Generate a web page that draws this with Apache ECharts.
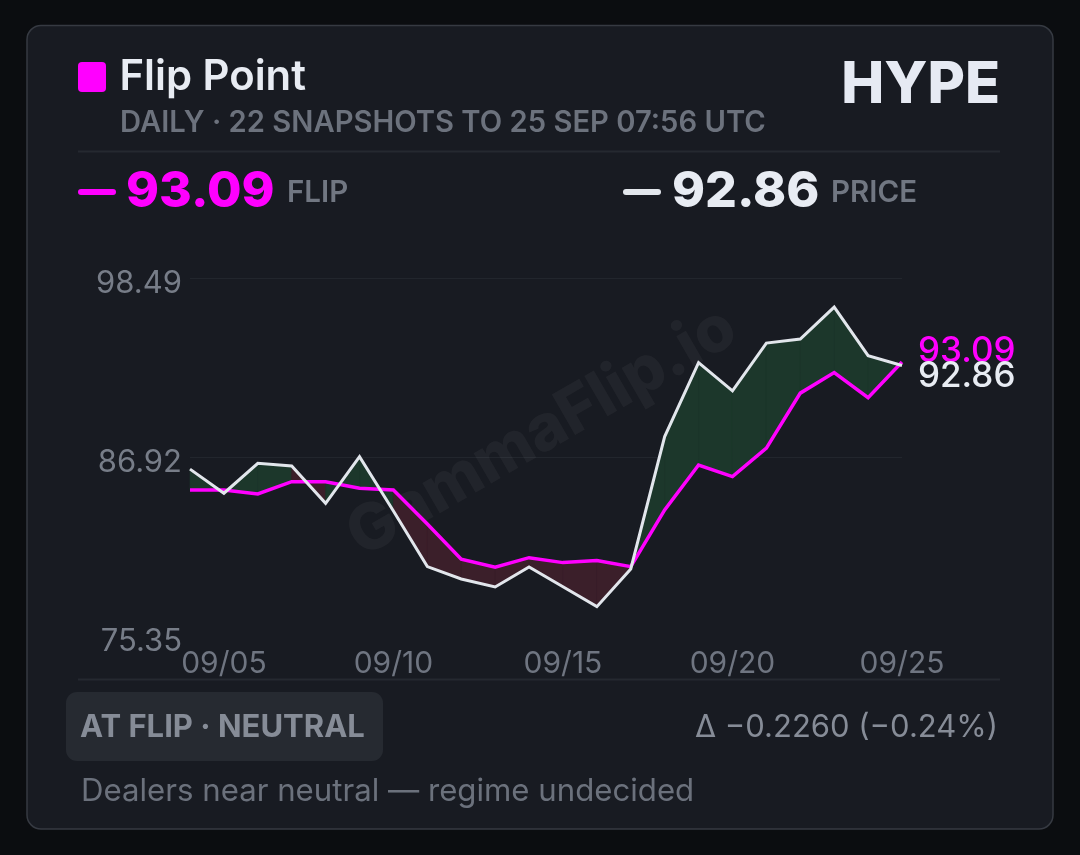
<!DOCTYPE html>
<html>
<head>
<meta charset="utf-8">
<script src="https://cdn.jsdelivr.net/npm/echarts@6/dist/echarts.min.js"></script>
<style>
html,body{margin:0;padding:0;background:#0b0d10;}
#chart{width:1080px;height:855px;}
</style>
</head>
<body>
<div id="chart"></div>
<script>
// ---- data ----
const dates = ['09/04','09/05','09/06','09/07','09/08','09/09','09/10','09/11','09/12','09/13','09/14','09/15','09/16','09/17','09/18','09/19','09/20','09/21','09/22','09/23','09/24','09/25'];
const price = [86.15, 84.59, 86.53, 86.36, 83.94, 86.96, 83.44, 79.84, 79.04, 78.52, 79.82, 78.54, 77.25, 79.69, 88.26, 93.05, 91.22, 94.31, 94.57, 96.64, 93.50, 92.86];
const flip  = [84.80, 84.80, 84.55, 85.34, 85.34, 84.91, 84.80, 82.60, 80.32, 79.80, 80.42, 80.10, 80.23, 79.84, 83.51, 86.42, 85.67, 87.51, 91.07, 92.40, 90.78, 93.09];
const yTicks = [75.35, 86.92, 98.49];
const titleText = 'Flip Point';
const subtitleText = 'DAILY · 22 SNAPSHOTS TO 25 SEP 07:56 UTC';
const symbolText = 'HYPE';
const badgeText = 'AT FLIP · NEUTRAL';
const deltaText = 'Δ −0.2260 (−0.24%)';
const noteText = 'Dealers near neutral — regime undecided';
const watermark = 'GammaFlip.io';

const FONT = "Inter, 'Noto Sans', sans-serif";
const MAGENTA = '#ff00ff';
const WHITE = '#e2e6ec';

// band segments between the two lines
const bands = [];
for (let i = 0; i < dates.length - 1; i++) {
  bands.push([i, price[i], price[i + 1], flip[i], flip[i + 1]]);
}

const chart = echarts.init(document.getElementById('chart'), null, {renderer: 'canvas'});

const txt = (x, y, text, size, weight, color, align) => ({
  type: 'text', x: x, y: y, z: 5,
  style: {text: text, fill: color, font: weight + ' ' + size + 'px ' + FONT, align: align || 'left', verticalAlign: 'middle'}
});

chart.setOption({
  backgroundColor: '#0b0d10',
  animation: false,
  grid: {left: 190, right: 178, top: 278.5, bottom: 219},
  xAxis: {
    type: 'category', data: dates, boundaryGap: false,
    axisLine: {show: false}, axisTick: {show: false},
    axisLabel: {
      color: '#6f7581', fontFamily: FONT, fontSize: 30, margin: 13,
      interval: (idx) => (idx - 1) % 5 === 0
    },
    splitLine: {show: false}
  },
  yAxis: {
    type: 'value', min: yTicks[0], max: yTicks[2], interval: yTicks[1] - yTicks[0],
    axisLine: {show: false}, axisTick: {show: false},
    axisLabel: {
      color: '#777d88', fontFamily: FONT, fontSize: 31, margin: 8,
      verticalAlign: 'top', lineHeight: 11,
      formatter: (v) => v.toFixed(2)
    },
    splitLine: {show: true, lineStyle: {color: ['rgba(0,0,0,0)', '#22262d', '#22262d'], width: 1}}
  },
  graphic: [
    {type: 'rect', z: -10, shape: {x: 27, y: 25.5, width: 1026, height: 803.5, r: 14},
     style: {fill: '#181b22', stroke: '#363a42', lineWidth: 1.5}},
    {type: 'rect', z: 5, shape: {x: 78, y: 62, width: 28, height: 30, r: 4}, style: {fill: MAGENTA}},
    txt(119.5, 77.5, titleText, 41.8, 600, '#e8ecf3'),
    txt(120, 123.5, subtitleText, 29.2, 600, '#6c727d'),
    txt(1000, 85.5, symbolText, 57.5, 800, '#e6eaf3', 'right'),
    {type: 'rect', z: 5, shape: {x: 78, y: 150.5, width: 922, height: 2}, style: {fill: '#252930'}},
    {type: 'rect', z: 5, shape: {x: 78, y: 189, width: 38, height: 6, r: 3}, style: {fill: MAGENTA}},
    txt(126, 191.5, flip[flip.length - 1].toFixed(2), 50, 800, MAGENTA),
    txt(287, 193.5, 'FLIP', 29.5, 600, '#717782'),
    {type: 'rect', z: 5, shape: {x: 623, y: 189, width: 38, height: 6, r: 3}, style: {fill: WHITE}},
    txt(672, 191.5, price[price.length - 1].toFixed(2), 50, 800, '#e8ecf3'),
    txt(831, 193.5, 'PRICE', 29.5, 600, '#717782'),
    {type: 'text', z: 1, x: 542, y: 432, rotation: 30 * Math.PI / 180,
     style: {text: watermark, fill: 'rgba(255,255,255,0.045)', font: '800 64px ' + FONT, align: 'center', verticalAlign: 'middle'}},
    {type: 'rect', z: 5, shape: {x: 78, y: 678.5, width: 922, height: 2}, style: {fill: '#252930'}},
    {type: 'rect', z: 5, shape: {x: 66, y: 692, width: 317, height: 69, r: 11}, style: {fill: '#262a31'}},
    txt(80, 727.5, badgeText, 31, 700, '#868c97'),
    txt(998, 727.5, deltaText, 31, 400, '#868c97', 'right'),
    txt(81, 791.5, noteText, 31.2, 400, '#6b717c')
  ],
  series: [
    {
      type: 'custom', z: 2, silent: true,
      data: bands,
      encode: {x: 0, y: [1, 2, 3, 4]},
      renderItem: (params, api) => {
        const i = api.value(0);
        const p0 = api.value(1), p1 = api.value(2), f0 = api.value(3), f1 = api.value(4);
        const pts = [api.coord([i, p0]), api.coord([i + 1, p1]), api.coord([i + 1, f1]), api.coord([i, f0])];
        const up = (p0 + p1) - (f0 + f1) >= 0;
        const c = up ? '#1c372b' : '#3b1f2a';
        return {type: 'polygon', shape: {points: pts}, style: {fill: c, stroke: c, lineWidth: 0.6}};
      }
    },
    {
      type: 'line', name: 'Flip', data: flip, z: 3, symbol: 'none', silent: true,
      lineStyle: {color: MAGENTA, width: 3.5, join: 'miter'},
      endLabel: {show: true, formatter: (p) => p.value.toFixed(2), color: MAGENTA, fontFamily: FONT, fontSize: 35, fontWeight: 500, distance: 16, offset: [0, -10]}
    },
    {
      type: 'line', name: 'Price', data: price, z: 4, symbol: 'none', silent: true,
      lineStyle: {color: WHITE, width: 3, join: 'miter'},
      endLabel: {show: true, formatter: (p) => p.value.toFixed(2), color: '#e8ecf3', fontFamily: FONT, fontSize: 35, fontWeight: 500, distance: 16, offset: [0, 11]}
    }
  ]
});
</script>
</body>
</html>
